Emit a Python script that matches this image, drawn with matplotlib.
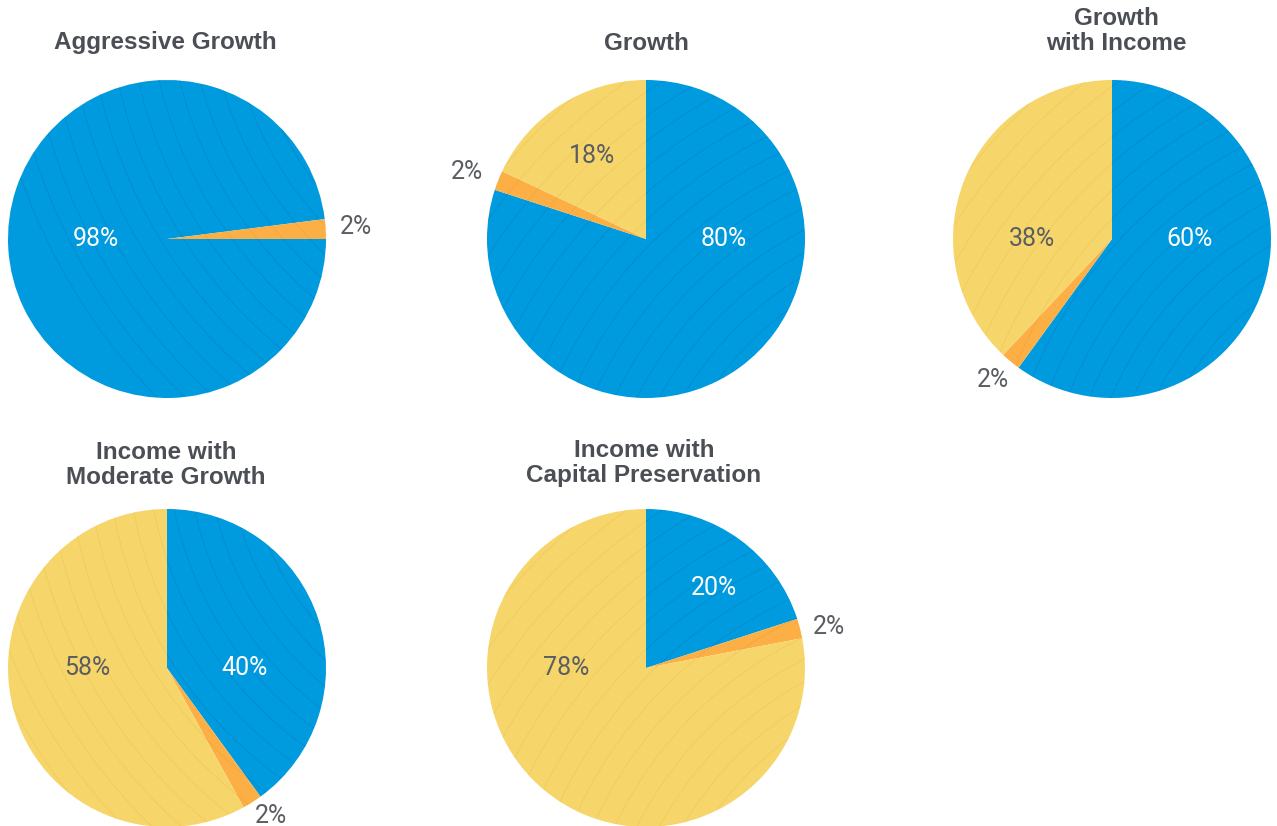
import numpy as np
import matplotlib
matplotlib.use("Agg")
import matplotlib.pyplot as plt
from matplotlib.patches import Circle

# data
titles = ["Aggressive Growth", "Growth", "Growth\nwith Income",
          "Income with\nModerate Growth", "Income with\nCapital Preservation"]
stocks = [98, 80, 60, 40, 20]
cash = [2, 2, 2, 2, 2]
bonds = [0, 18, 38, 58, 78]

# layout (pixels, y measured from top)
W, H = 1277, 826
centers = [(167, 239), (646, 239), (1112, 239), (167, 668), (646, 668)]
R = 159
title_y = [43, 43, 31, 465, 463]
title_x = [165, 646, 1116, 166, 644]
start_angles = [0, 90, 90, 90, 90]
# label placement per pie: (angle deg, radius fraction) for stocks, cash, bonds
label_pos = [
    [(180, 0.45), (3.6, 1.19), None],
    [(0, 0.49), (159.5, 1.2), (123, 0.62)],
    [(0, 0.49), (230, 1.16), (180, 0.5)],
    [(0, 0.49), (-55, 1.14), (180, 0.5)],
    [(49.6, 0.66), (12.6, 1.18), (180, 0.5)],
]
# texture arcs: (cx, cy offset from pie center in px, r0, r1, step)
textures = [
    (420, 260, 280, 620, 20),
    (330, -330, 200, 700, 20),
    (330, -300, 200, 700, 20),
    (360, 230, 200, 700, 20),
    (330, -330, 200, 700, 20),
]

BLUE = "#009ade"
ORANGE = "#fcaf45"
YELLOW = "#f6d66b"
GRAY = "#5a5d62"
TITLE = "#4b4f55"

plt.rcParams["font.family"] = ["Liberation Sans", "DejaVu Sans"]

fig = plt.figure(figsize=(W / 100, H / 100), dpi=100)
ax = fig.add_axes([0, 0, 1, 1])

for i in range(5):
    cx, cy = centers[i][0], H - centers[i][1]
    vals = [stocks[i], cash[i], bonds[i]]
    wedges, _ = ax.pie(vals, colors=[BLUE, ORANGE, YELLOW], startangle=start_angles[i],
                       counterclock=False, radius=R, center=(cx, cy),
                       wedgeprops=dict(linewidth=0), frame=True)
    # faint arcs inside slices
    tx, ty, r0, r1, st = textures[i]
    for w, col in zip(wedges, ["#0a6fb0", "#e8952a", "#e6b540"]):
        if w.theta2 - w.theta1 < 0.01:
            continue
        for rr in np.arange(r0, r1, st):
            c = Circle((cx + tx, cy + ty), rr, fill=False, lw=0.6, ec=col, alpha=0.35)
            ax.add_patch(c)
            c.set_clip_path(w)
    ax.text(title_x[i], H - title_y[i], titles[i], ha="center", va="center",
            fontsize=17.5, fontweight="bold", color=TITLE, linespacing=1.1)
    for k, lp in enumerate(label_pos[i]):
        if lp is None or vals[k] == 0:
            continue
        ang, fr = lp
        lx = cx + fr * R * np.cos(np.radians(ang))
        ly = cy + fr * R * np.sin(np.radians(ang))
        color = "white" if k == 0 else GRAY
        ax.text(lx, ly, f"{vals[k]}%", ha="center", va="center", fontsize=18,
                color=color, family=["Roboto", "DejaVu Sans"])

ax.set_xlim(0, W)
ax.set_ylim(0, H)
ax.set_aspect("equal")
ax.axis("off")

fig.savefig("out.png", dpi=100)
